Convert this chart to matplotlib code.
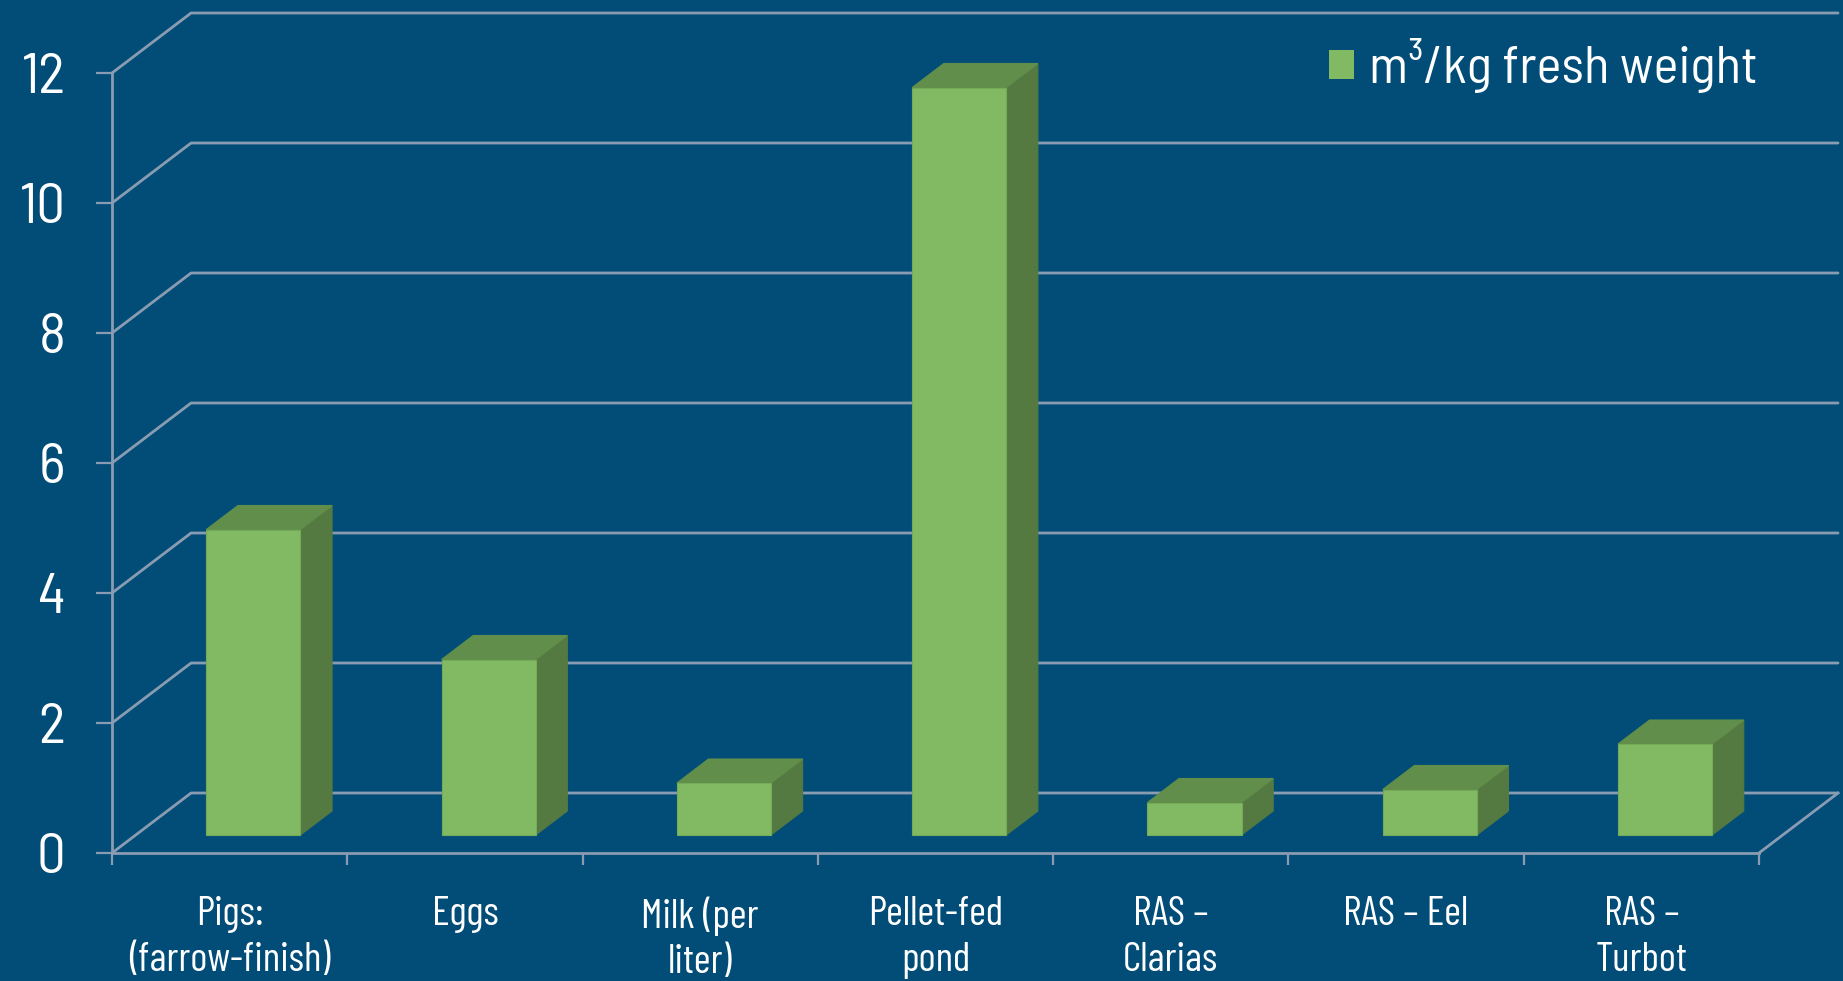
import matplotlib
matplotlib.use("Agg")
import matplotlib.pyplot as plt
from matplotlib.patches import Polygon, Rectangle, Patch

# ---- data -------------------------------------------------------------
categories = [
    "Pigs:\n(farrow-finish)",
    "Eggs",
    "Milk (per\nliter)",
    "Pellet-fed\npond",
    "RAS \u2013\nClarias",
    "RAS \u2013 Eel",
    "RAS \u2013\nTurbot",
]
values = [4.7, 2.7, 0.8, 11.5, 0.5, 0.7, 1.4]
series_label = "m\u00b3/kg fresh weight"
y_ticks = [0, 2, 4, 6, 8, 10, 12]

# ---- style ------------------------------------------------------------
BG = "#014D78"
GRID = "#8A9CB1"
FRONT = "#82BA64"
TOP = "#618F4B"
SIDE = "#547A41"
EDGE = "#74AA58"
FONT_NARROW = ["Barlow Condensed", "Roboto Condensed", "Liberation Sans Narrow", "DejaVu Sans"]
FONT_SEMI = ["Barlow Semi Condensed", "Barlow Condensed", "Liberation Sans Narrow", "DejaVu Sans"]

plt.rcParams["font.family"] = FONT_NARROW

# oblique depth of the plot box, in data units (x: categories, y: value)
DX, DY = 0.336, 0.923
BAR_W = 0.40                 # bar width as a fraction of a category
BAR_D0, BAR_D1 = 0.30, 0.70  # bar depth span inside the box

W, H, DPI = 1843, 981, 100
fig = plt.figure(figsize=(W / DPI, H / DPI), dpi=DPI, facecolor=BG)
ax = fig.add_axes([112 / W, (H - 853) / H, (1759 - 112) / W, (853 - 73) / H])
ax.set_facecolor("none")
n = len(categories)
ax.set_xlim(0, n)
ax.set_ylim(0, 12)

# side wall + back wall gridlines
for v in y_ticks:
    ax.plot([0, DX, n + DX], [v, v + DY, v + DY], color=GRID, lw=2.0,
            solid_capstyle="round", clip_on=False, zorder=1)
# right edge of the floor
ax.plot([n, n + DX], [0, DY], color=GRID, lw=2.0, clip_on=False, zorder=1)

# 3-D looking bars
bw_off = (1 - BAR_W) / 2
depth = BAR_D1 - BAR_D0
for i, v in enumerate(values):
    x0 = i + bw_off + BAR_D0 * DX
    y0 = BAR_D0 * DY
    ddx, ddy = depth * DX, depth * DY
    side = Polygon([(x0 + BAR_W, y0), (x0 + BAR_W + ddx, y0 + ddy),
                    (x0 + BAR_W + ddx, y0 + v + ddy), (x0 + BAR_W, y0 + v)],
                   closed=True, facecolor=SIDE, edgecolor=SIDE, lw=0.8,
                   clip_on=False, zorder=3)
    top = Polygon([(x0, y0 + v), (x0 + BAR_W, y0 + v),
                   (x0 + BAR_W + ddx, y0 + v + ddy), (x0 + ddx, y0 + v + ddy)],
                  closed=True, facecolor=TOP, edgecolor=TOP, lw=0.8,
                  clip_on=False, zorder=3)
    front = Rectangle((x0, y0), BAR_W, v, facecolor=FRONT, edgecolor=EDGE,
                      lw=0.8, clip_on=False, zorder=4)
    for p in (side, top, front):
        ax.add_patch(p)

# axes: front floor edge and vertical value axis
for s in ("top", "right"):
    ax.spines[s].set_visible(False)
for s in ("left", "bottom"):
    ax.spines[s].set_color(GRID)
    ax.spines[s].set_linewidth(2.0)
    ax.spines[s].set_zorder(2)

ax.set_yticks(y_ticks)
ax.set_yticklabels([str(t) for t in y_ticks])
ax.tick_params(axis="y", direction="out", length=11.5, width=1.6, color=GRID,
               labelcolor="white", labelsize=41, pad=22)
for lbl in ax.get_yticklabels():
    lbl.set_family(FONT_SEMI)

ax.set_xticks(range(n + 1))
ax.set_xticklabels([])
ax.set_xticks([i + 0.5 for i in range(n)], minor=True)
ax.set_xticklabels(categories, minor=True)
ax.tick_params(axis="x", which="major", direction="out", length=8.6, width=1.6,
               color=GRID)
ax.tick_params(axis="x", which="minor", length=0, labelcolor="white",
               labelsize=29.5, pad=31)
for lbl in ax.get_xticklabels(minor=True):
    lbl.set_linespacing(1.3)

leg = ax.legend(handles=[Patch(facecolor=FRONT, edgecolor="none", label=series_label)],
                loc="upper left", bbox_to_anchor=(1329 / W, 1 - 38 / H),
                bbox_transform=fig.transFigure, frameon=False,
                prop={"family": FONT_SEMI, "size": 38},
                handlelength=0.48, handleheight=0.48, handletextpad=0.28,
                borderpad=0, borderaxespad=0)
for t in leg.get_texts():
    t.set_color("white")

fig.savefig("out.png", dpi=DPI, facecolor=BG)
